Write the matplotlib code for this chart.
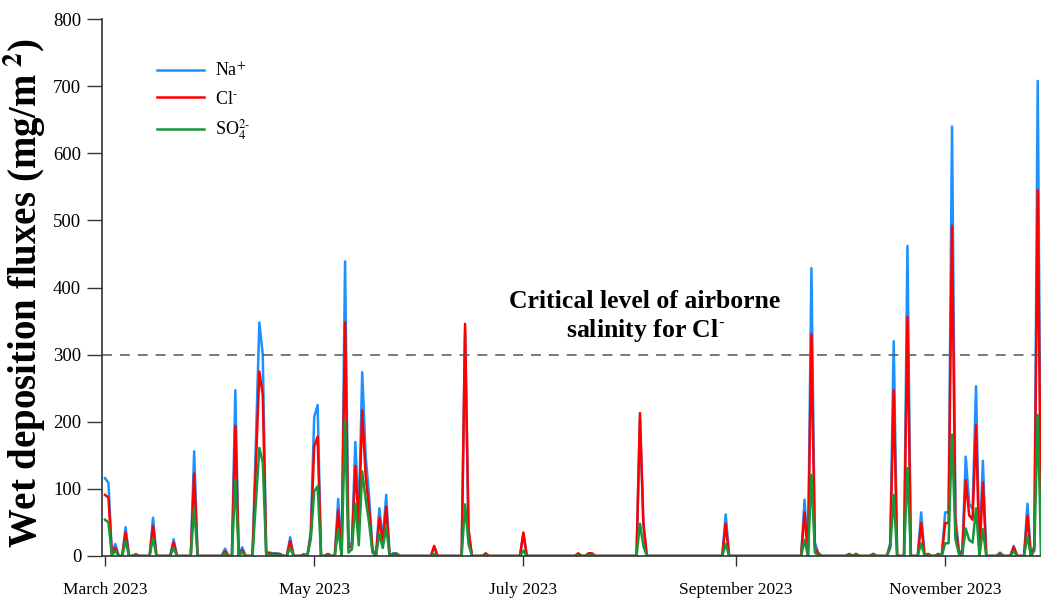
import numpy as np
import pandas as pd
import matplotlib
matplotlib.use("Agg")
from matplotlib import pyplot as plt

plt.rcParams['font.family'] = ['Liberation Serif', 'DejaVu Serif']
plt.rcParams['mathtext.fontset'] = 'stix'

# sampling days (days after 1 March 2023) that show a non-zero flux
event_day = [0, 1, 2, 3, 6, 9, 14, 20, 26, 35, 38, 40, 44, 45, 46, 47, 48, 49, 50, 51,
             54, 58, 60, 61, 62, 65, 68, 70, 71, 72, 73, 74, 75, 76, 77, 78, 80, 81, 82,
             84, 85, 96, 105, 106, 111, 122, 138, 141, 142, 156, 157, 181, 204, 206, 207,
             208, 217, 219, 224, 229, 230, 234, 238, 240, 243, 245, 246, 247, 248, 249,
             250, 251, 252, 253, 254, 256, 261, 265, 269, 271, 272]

na = [116, 109, 3, 18, 43, 3, 57, 25, 156, 11, 247, 13, 170, 348, 300, 6, 5, 4, 4, 3,
      28, 3, 36, 207, 225, 3, 85, 439, 15, 20, 170, 55, 274, 150, 90, 10, 71, 25, 91,
      4, 4, 13, 335, 35, 3, 33, 3, 3, 3, 205, 45, 62, 84, 429, 20,
      5, 3, 3, 3, 20, 320, 462, 65, 3, 3, 65, 65, 640, 60, 8,
      5, 148, 78, 70, 253, 142, 5, 15, 78, 15, 708]

cl = [91, 87, 2, 12, 35, 2, 45, 20, 123, 7, 194, 9, 135, 275, 240, 4, 4, 3, 3, 3,
      22, 2, 30, 163, 178, 3, 68, 348, 12, 15, 134, 45, 217, 120, 70, 8, 57, 20, 73,
      3, 3, 15, 346, 40, 4, 35, 4, 4, 4, 213, 50, 48, 65, 330, 12,
      3, 3, 3, 3, 15, 247, 356, 49, 3, 3, 49, 49, 492, 45, 6,
      4, 113, 61, 54, 195, 110, 4, 13, 60, 12, 545]

so4 = [54, 50, 1, 8, 22, 1, 27, 12, 72, 4, 113, 6, 80, 161, 140, 2, 2, 1, 1, 1,
       12, 1, 25, 96, 104, 1, 40, 202, 5, 10, 78, 16, 126, 85, 50, 5, 33, 12, 43,
       1, 1, 3, 77, 18, 1, 8, 1, 1, 1, 48, 15, 18, 24, 121, 5,
       1, 1, 1, 1, 12, 91, 131, 19, 1, 1, 19, 19, 181, 25, 3,
       2, 41, 24, 20, 71, 40, 2, 7, 30, 8, 210]

dates = pd.date_range("2023-03-01", "2023-11-29", freq="D")
events = pd.DataFrame({"Na": na, "Cl": cl, "SO4": so4},
                      index=dates[0] + pd.to_timedelta(event_day, unit="D"))
df = events.reindex(dates, fill_value=0)

critical_cl = 300
tick_dates = pd.to_datetime(["2023-03-01", "2023-05-01", "2023-07-01",
                             "2023-09-01", "2023-11-01"])
tick_labels = ["March 2023", "May 2023", "July 2023", "September 2023", "November 2023"]

fig = plt.figure(figsize=(10.41, 5.99), dpi=100)
ax = fig.add_axes([0.098, 0.0718, 0.902, 0.8962])

ax.plot(df.index, df["Na"], color="#1E90FF", lw=1.8, label="Na$^{+}$")
ax.plot(df.index, df["Cl"], color="#FF0000", lw=1.8, label="Cl$^{\\text{-}}$")
ax.plot(df.index, df["SO4"], color="#17963A", lw=1.8, label="SO$_4^{\\text{2-}}$")
ax.axhline(critical_cl, color="#555555", lw=1.1, linestyle=(0, (6.5, 5.2)))

ax.text(dates[0] + pd.Timedelta(days=157.5), 356,
        "Critical level of airborne\nsalinity for Cl$^{\\text{-}}$",
        ha="center", va="center", fontsize=18.5, fontweight="bold", linespacing=1.2)

ax.set_ylim(0, 800)
ax.set_yticks(np.arange(0, 801, 100))
ax.set_xlim(dates[0] - pd.Timedelta(hours=21), dates[0] + pd.Timedelta(hours=272.95 * 24))
ax.set_xticks(tick_dates)
ax.set_xticklabels(tick_labels)

for s in ["top", "right"]:
    ax.spines[s].set_visible(False)
for s in ["left", "bottom"]:
    ax.spines[s].set_color("#333333")
    ax.spines[s].set_linewidth(1.2)
ax.tick_params(axis="y", length=11, width=1, color="#333333", labelsize=13.5, pad=4)
ax.tick_params(axis="x", length=7, width=1, color="#333333", labelsize=12.5, pad=12)

ax.set_ylabel("Wet deposition fluxes (mg/m$^{\\ \\mathbf{2}}$)", fontsize=28,
              fontweight="bold")
ax.yaxis.set_label_coords(-0.058, 0.49)

ax.legend(loc="upper left", bbox_to_anchor=(0.041, 0.95), frameon=False, fontsize=13,
          handlelength=2.6, handletextpad=0.6, labelspacing=0.55)

fig.savefig("out.png", dpi=100)
